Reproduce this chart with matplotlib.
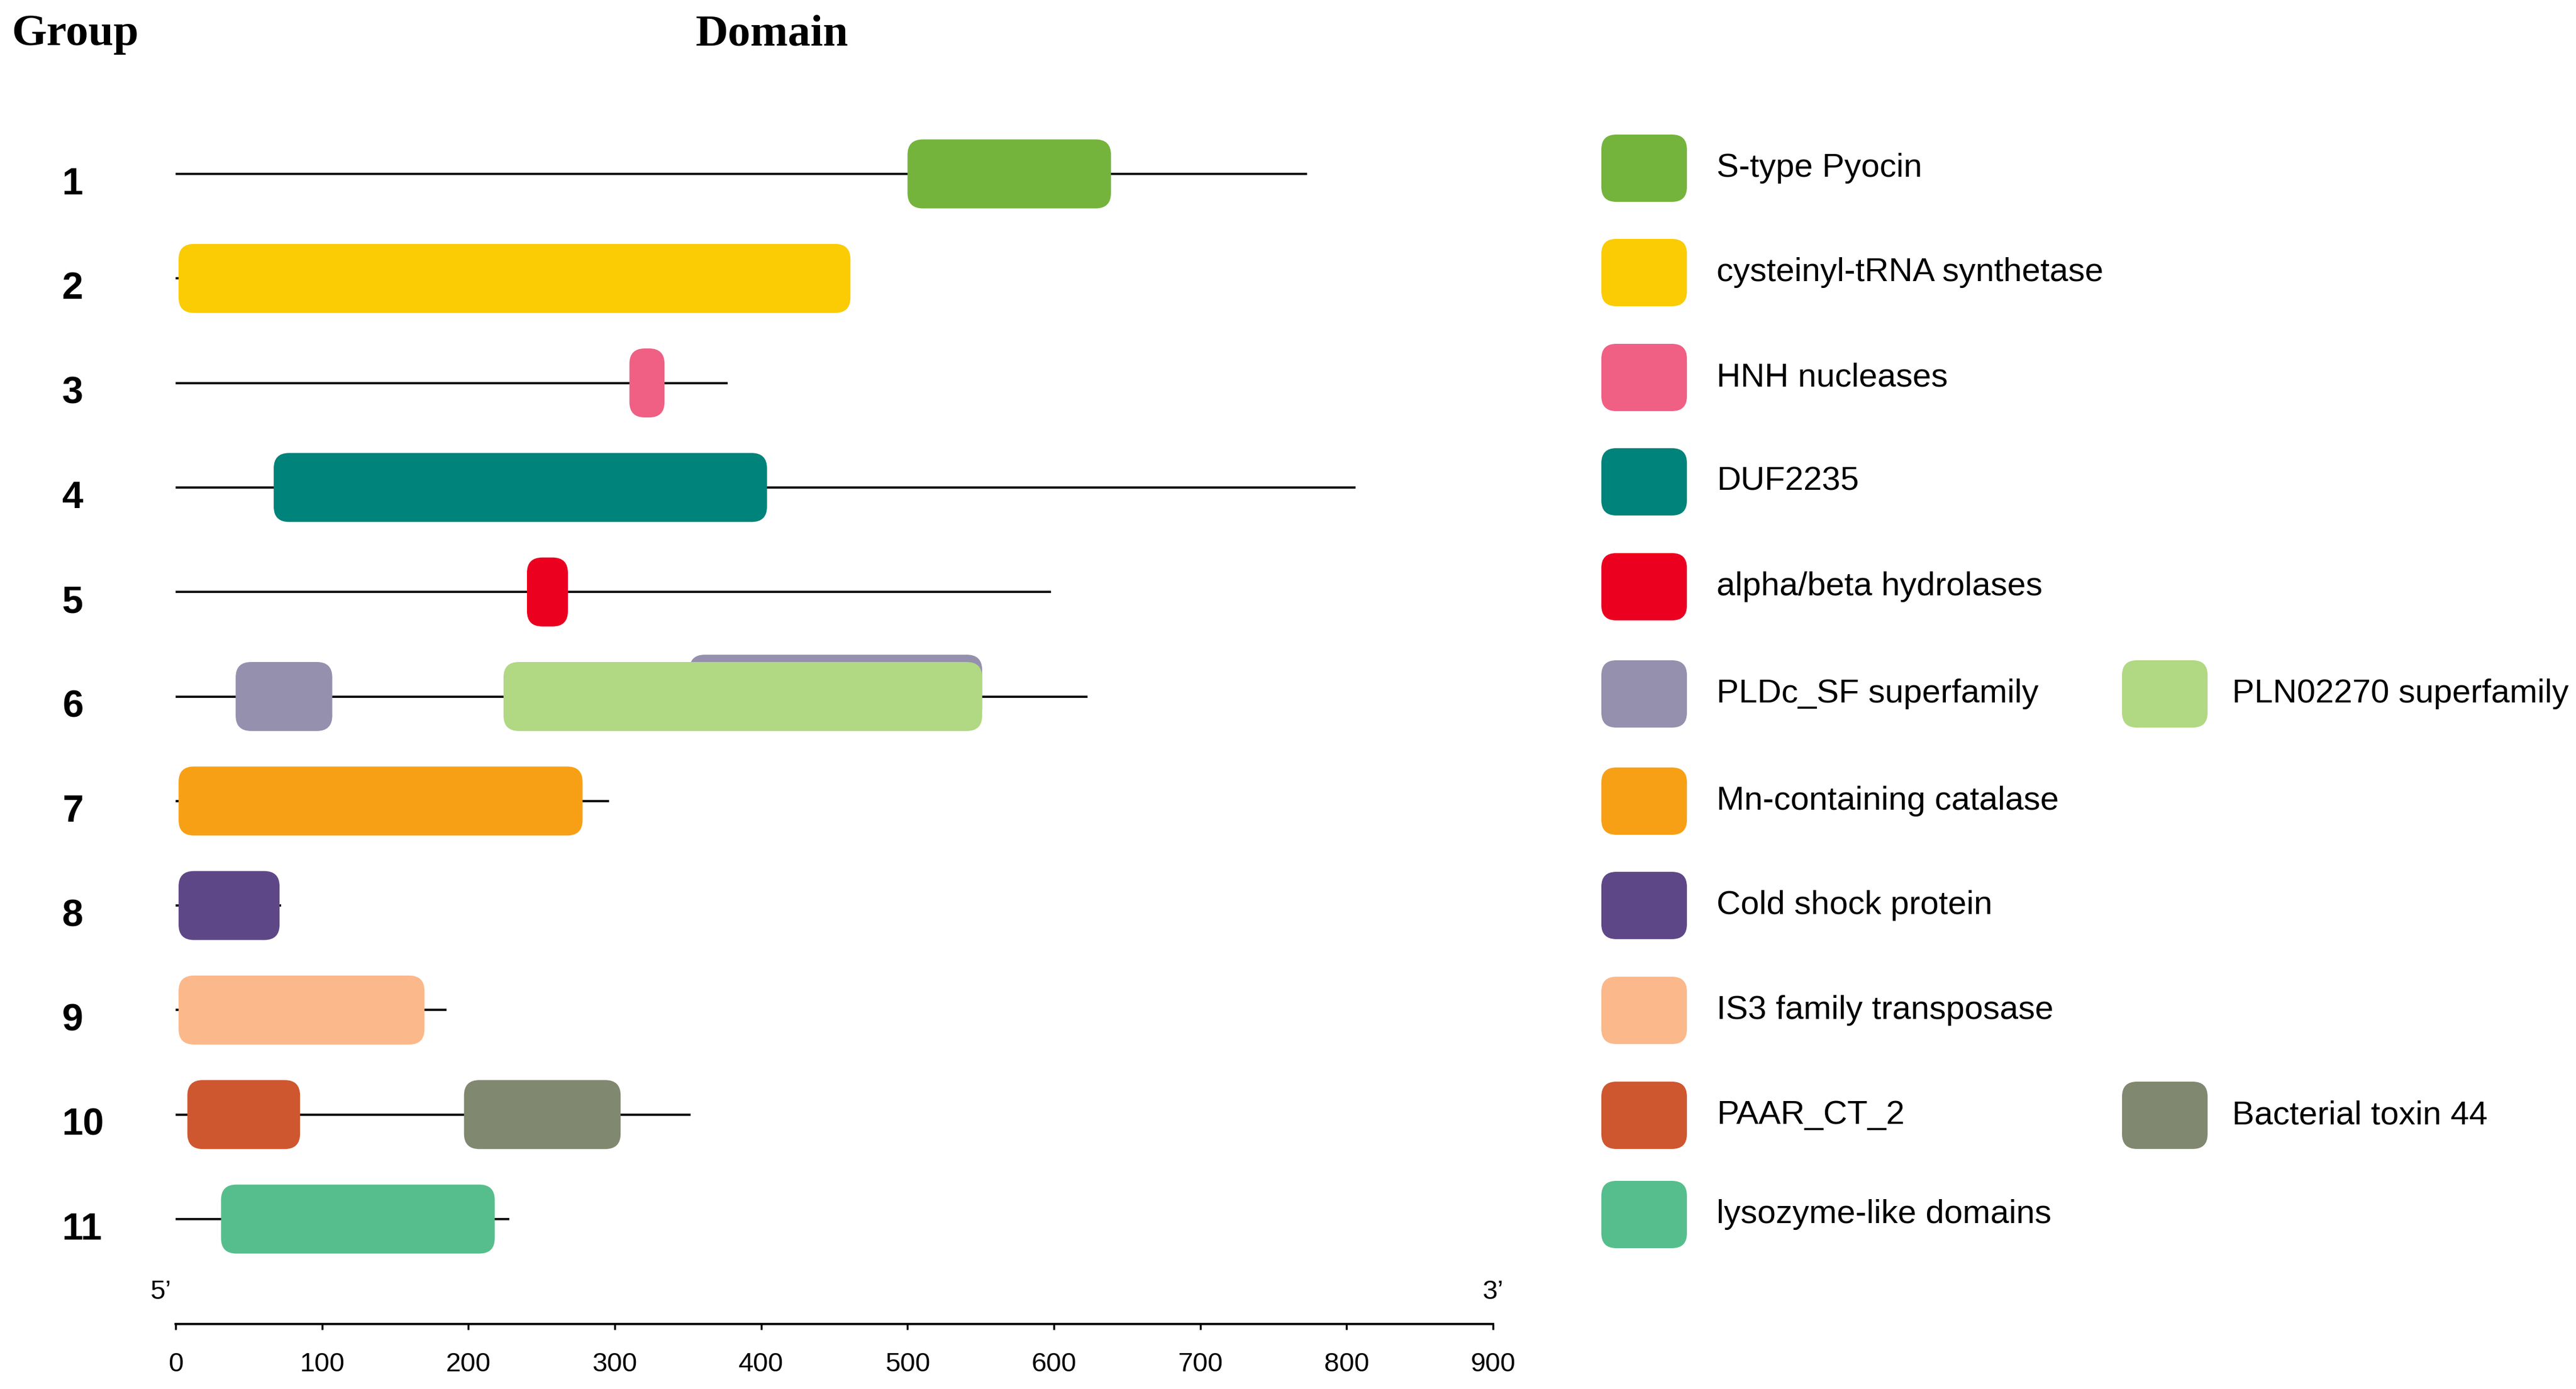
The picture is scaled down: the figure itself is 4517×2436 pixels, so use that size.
import matplotlib.pyplot as plt
from matplotlib.patches import FancyBboxPatch

# protein lengths per group (aa)
groups = ['1', '2', '3', '4', '5', '6', '7', '8', '9', '10', '11']
lengths = [773, 461, 377, 806, 598, 623, 296, 72, 185, 352, 228]

# domains: group index, start, end, name
dom_group = [1, 2, 3, 4, 5, 6, 6, 6, 7, 8, 9, 10, 10, 11]
dom_start = [500, 2, 310, 67, 240, 351, 41, 224, 2, 2, 2, 8, 197, 31]
dom_end = [639, 461, 334, 404, 268, 551, 107, 551, 278, 71, 170, 85, 304, 218]
dom_name = ['S-type Pyocin', 'cysteinyl-tRNA synthetase', 'HNH nucleases', 'DUF2235',
            'alpha/beta hydrolases', 'PLDc_SF superfamily', 'PLDc_SF superfamily',
            'PLN02270 superfamily', 'Mn-containing catalase', 'Cold shock protein',
            'IS3 family transposase', 'PAAR_CT_2', 'Bacterial toxin 44', 'lysozyme-like domains']
dom_shift = [0, 0, 0, 0, 0, -0.07, 0, 0, 0, 0, 0, 0, 0, 0]

colors = {
    'S-type Pyocin': '#74B43C',
    'cysteinyl-tRNA synthetase': '#FBCB04',
    'HNH nucleases': '#F06084',
    'DUF2235': '#00837A',
    'alpha/beta hydrolases': '#EB0020',
    'PLDc_SF superfamily': '#9590AE',
    'PLN02270 superfamily': '#B1D883',
    'Mn-containing catalase': '#F8A015',
    'Cold shock protein': '#5E4786',
    'IS3 family transposase': '#FBB88A',
    'PAAR_CT_2': '#CE5730',
    'Bacterial toxin 44': '#808870',
    'lysozyme-like domains': '#56BE8C',
}

# legend layout: (row, column, name)
leg_row = [1, 2, 3, 4, 5, 6, 6, 7, 8, 9, 10, 10, 11]
leg_col = [0, 0, 0, 0, 0, 0, 1, 0, 0, 0, 0, 1, 0]
leg_name = ['S-type Pyocin', 'cysteinyl-tRNA synthetase', 'HNH nucleases', 'DUF2235',
            'alpha/beta hydrolases', 'PLDc_SF superfamily', 'PLN02270 superfamily',
            'Mn-containing catalase', 'Cold shock protein', 'IS3 family transposase',
            'PAAR_CT_2', 'Bacterial toxin 44', 'lysozyme-like domains']

W, H, DPI = 4517, 2436, 100
fig = plt.figure(figsize=(W / DPI, H / DPI), dpi=DPI)
plt.rcParams['font.family'] = ['Liberation Sans', 'DejaVu Sans']

# main axes: x 0..900 from px 308 to 2618, rows 183 px apart starting at y=305
x0, x1 = 308, 2618
row_px = 183.3
row1_y = 305
axis_y = 2322
top_px = row1_y - 0.5 * row_px
ax = fig.add_axes([x0 / W, 1 - axis_y / H, (x1 - x0) / W, (axis_y - top_px) / H])
ax.set_xlim(0, 900)
ymax = 1 + (axis_y - row1_y) / row_px
ax.set_ylim(ymax, 0.5)

px_x = (x1 - x0) / 900.0
asp = px_x / row_px
rad = 10.5
bh = 0.66

for i, g in enumerate(groups):
    ax.plot([0, lengths[i]], [i + 1, i + 1], color='#111111', lw=2.9, solid_capstyle='butt', zorder=1)

for g, s, e, n, sh in zip(dom_group, dom_start, dom_end, dom_name, dom_shift):
    y = g + sh
    p = FancyBboxPatch((s, y - bh / 2), e - s, bh,
                       boxstyle='round,pad=0,rounding_size=%g' % rad,
                       mutation_aspect=asp, fc=colors[n], ec='none', zorder=2)
    ax.add_patch(p)

for sp in ['top', 'right', 'left']:
    ax.spines[sp].set_visible(False)
ax.spines['bottom'].set_linewidth(2.9)
ax.set_yticks([])
ax.set_xticks(range(0, 901, 100))
ax.tick_params(axis='x', length=7, width=2.5, pad=28, labelsize=34)

ax.text(-3, 1 + (2266 - row1_y) / row_px, "5\u2019", ha='right', va='center', fontsize=34)
ax.text(900, 1 + (2266 - row1_y) / row_px, "3\u2019", ha='center', va='center', fontsize=34)

# group labels
for i, g in enumerate(groups):
    fig.text(109 / W, 1 - (341 + i * row_px) / H, g, ha='left', va='baseline',
             fontsize=48, fontweight='bold')

fig.text(20 / W, 1 - 61 / H, 'Group', ha='left', va='center', fontsize=57,
         fontweight='bold', family='Liberation Serif')
fig.text(1354 / W, 1 - 61 / H, 'Domain', ha='center', va='center', fontsize=57,
         fontweight='bold', family='Liberation Serif')

# legend in pixel coordinates
lax = fig.add_axes([0, 0, 1, 1])
lax.set_xlim(0, W)
lax.set_ylim(H, 0)
lax.axis('off')
sw_x = [2808, 3721]
tx_x = [3010, 3914]
sw_w, sw_h = 150, 118
leg_y = [295, 478, 662, 845, 1029, 1217, 1405, 1588, 1772, 1956, 2130]
for r, c, n in zip(leg_row, leg_col, leg_name):
    yc = leg_y[r - 1]
    p = FancyBboxPatch((sw_x[c], yc - sw_h / 2), sw_w, sw_h,
                       boxstyle='round,pad=0,rounding_size=26', fc=colors[n], ec='none')
    lax.add_patch(p)
    lax.text(tx_x[c], yc, n, ha='left', va='center', fontsize=42)

fig.savefig('out.png', dpi=DPI)
